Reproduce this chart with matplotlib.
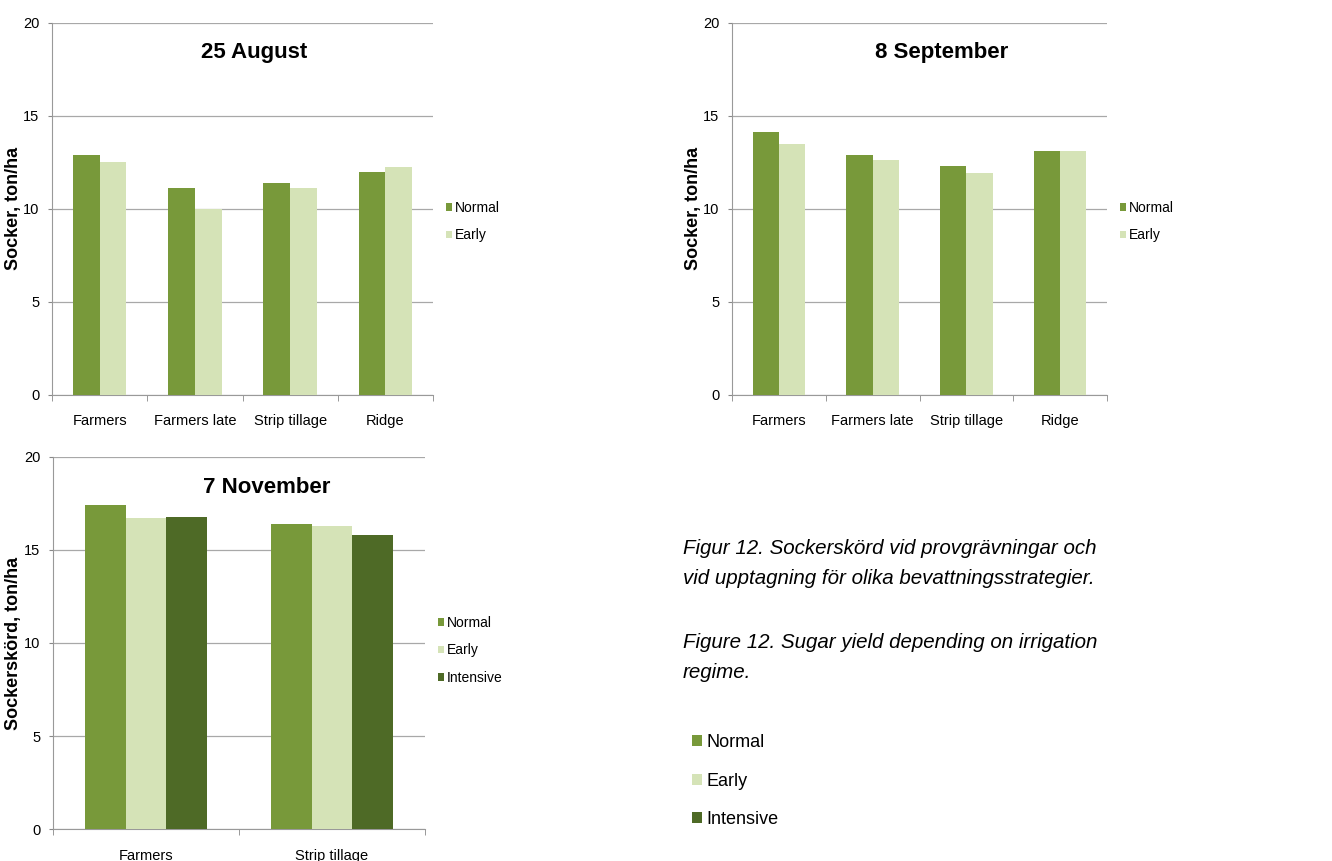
import numpy as np
import matplotlib
matplotlib.use("Agg")
import matplotlib.pyplot as plt

plt.rcParams['font.family'] = ['Liberation Sans', 'DejaVu Sans']

# data
kat_host = ["Farmers", "Farmers late", "Strip tillage", "Ridge"]
aug_normal = [12.9, 11.1, 11.4, 12.0]
aug_early = [12.5, 10.0, 11.1, 12.25]
sep_normal = [14.15, 12.9, 12.3, 13.1]
sep_early = [13.5, 12.6, 11.9, 13.1]

kat_nov = ["Farmers", "Strip tillage"]
nov_normal = [17.4, 16.4]
nov_early = [16.7, 16.3]
nov_intensive = [16.75, 15.8]

serier = ["Normal", "Early", "Intensive"]
farger = ["#78993A", "#D5E3B7", "#4E6A26"]

W, H = 1332, 861
fig = plt.figure(figsize=(W / 100, H / 100), dpi=100)


def rect(x0, y0, x1, y1):
    # pixel box (top-left origin) -> figure fraction
    return [x0 / W, 1 - y1 / H, (x1 - x0) / W, (y1 - y0) / H]


def rita_panel(ax, kategorier, varden, bredd, titel, ylabel, tx, ty, lx):
    n = len(kategorier)
    x = np.arange(n)
    m = len(varden)
    for i, v in enumerate(varden):
        off = (i - (m - 1) / 2) * bredd
        ax.bar(x + off, v, bredd, color=farger[i], label=serier[i], zorder=3)
    ax.set_xlim(-0.5, n - 0.5)
    ax.set_ylim(0, 20)
    ax.set_yticks([0, 5, 10, 15, 20])
    ax.set_xticks(x)
    ax.set_xticklabels(kategorier, fontsize=10.5)
    ax.set_xticks(np.arange(n + 1) - 0.5, minor=True)
    ax.tick_params(axis='x', which='major', length=0, pad=14)
    ax.tick_params(axis='x', which='minor', length=4, color='#888888')
    ax.tick_params(axis='y', length=3, color='#888888', labelsize=10.5, pad=6)
    ax.grid(axis='y', color='#A8A8A8', linewidth=0.9, zorder=0)
    for s in ['top', 'right']:
        ax.spines[s].set_visible(False)
    ax.spines['left'].set_color('#999999')
    ax.spines['bottom'].set_color('#999999')
    ax.set_ylabel(ylabel, fontsize=13, fontweight='bold')
    ax.yaxis.set_label_coords(lx, 0.5)
    ax.text(tx, ty, titel, transform=ax.transAxes, ha='center', va='center',
            fontsize=16, fontweight='bold')
    ax.legend(loc='center left', bbox_to_anchor=(1.0, 0.466 if m == 2 else 0.48),
              frameon=False, fontsize=10, handlelength=0.5, handleheight=0.5,
              handletextpad=0.2, labelspacing=1.0)


ax1 = fig.add_axes(rect(52, 22.7, 433, 395))
rita_panel(ax1, kat_host, [aug_normal, aug_early], 0.28, "25 August",
           "Socker, ton/ha", 0.53, 0.92, -0.079)

ax2 = fig.add_axes(rect(732, 22.7, 1107, 395))
rita_panel(ax2, kat_host, [sep_normal, sep_early], 0.28, "8 September",
           "Socker, ton/ha", 0.56, 0.92, -0.08)

ax3 = fig.add_axes(rect(53, 456.7, 425, 829.3))
rita_panel(ax3, kat_nov, [nov_normal, nov_early, nov_intensive], 0.22,
           "7 November", "Sockerskörd, ton/ha", 0.575, 0.918, -0.083)

# figurtext
fig.text(683 / W, 1 - 548 / H, "Figur 12. Sockerskörd vid provgrävningar och",
         fontsize=14.8, style='italic', va='center')
fig.text(683 / W, 1 - 578 / H, "vid upptagning för olika bevattningsstrategier.",
         fontsize=14.8, style='italic', va='center')
fig.text(683 / W, 1 - 642 / H, "Figure 12. Sugar yield depending on irrigation",
         fontsize=14.8, style='italic', va='center')
fig.text(683 / W, 1 - 672 / H, "regime.",
         fontsize=14.8, style='italic', va='center')

# gemensam legend nere till höger
handles, labels = ax3.get_legend_handles_labels()
fig.legend(handles, labels, loc='center left',
           bbox_to_anchor=(676 / W, 1 - 781 / H), frameon=False, fontsize=13,
           handlelength=0.55, handleheight=0.55, handletextpad=0.25,
           labelspacing=1.2)

fig.savefig("out.png", dpi=100)
